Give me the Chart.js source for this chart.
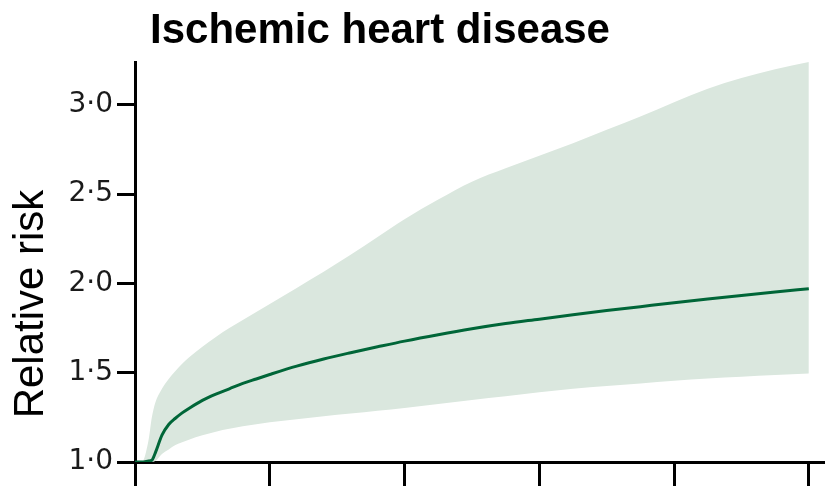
<!DOCTYPE html>
<html>
<head>
<meta charset="utf-8">
<title>Ischemic heart disease</title>
<script src="https://cdn.jsdelivr.net/npm/chart.js@4.4.1/dist/chart.umd.min.js"></script>
<style>
    html, body { margin: 0; padding: 0; background: #ffffff; }
    #chart { display: block; }
</style>
</head>
<body>
<canvas id="chart" width="825" height="486"></canvas>
<script>
const chartTitle = 'Ischemic heart disease';
const yAxisTitle = 'Relative risk';

// exposure values along the x axis
const exposure = [0, 1, 2, 2.5, 3, 4, 5, 6, 7, 8, 10, 12, 14, 16, 18, 20, 24, 28, 32, 36, 40, 45, 50, 55, 60, 65, 70, 75, 80, 85, 90, 95, 100];

// relative risk curve and its uncertainty band
const riskMean = [1.0, 1.0, 1.005, 1.01, 1.05, 1.15, 1.21, 1.245, 1.275, 1.30, 1.345, 1.38, 1.41, 1.44, 1.465, 1.49, 1.537, 1.577, 1.612, 1.645, 1.677, 1.713, 1.746, 1.775, 1.80, 1.825, 1.848, 1.87, 1.892, 1.913, 1.933, 1.952, 1.97];
const riskUpper = [1.0, 1.0, 1.12, 1.25, 1.33, 1.41, 1.465, 1.51, 1.55, 1.585, 1.645, 1.70, 1.75, 1.795, 1.84, 1.885, 1.975, 2.065, 2.16, 2.26, 2.36, 2.47, 2.57, 2.645, 2.715, 2.785, 2.86, 2.935, 3.015, 3.09, 3.15, 3.20, 3.24];
const riskLower = [1.0, 1.0, 1.0, 1.0, 1.005, 1.045, 1.07, 1.095, 1.11, 1.125, 1.15, 1.17, 1.186, 1.20, 1.212, 1.223, 1.24, 1.256, 1.271, 1.287, 1.303, 1.325, 1.347, 1.368, 1.39, 1.41, 1.425, 1.44, 1.455, 1.467, 1.477, 1.487, 1.495];

const xTicks = [0, 20, 40, 60, 80, 100];
const yTicks = [1.0, 1.5, 2.0, 2.5, 3.0];

const toPoints = values => exposure.map((x, i) => ({ x: x, y: values[i] }));

// title and rotated axis label, drawn straight on the canvas
const textLabels = {
    id: 'textLabels',
    afterDraw(chart) {
        const ctx = chart.ctx;
        ctx.save();
        ctx.fillStyle = '#000000';
        ctx.textAlign = 'center';
        ctx.textBaseline = 'alphabetic';
        ctx.font = 'bold 42px "Liberation Sans", Arial, sans-serif';
        ctx.fillText(chartTitle, 380, 43);

        ctx.translate(43, 304);
        ctx.rotate(-Math.PI / 2);
        ctx.font = '42px "Liberation Sans", Arial, sans-serif';
        ctx.fillText(yAxisTitle, 0, 0);
        ctx.restore();
    }
};

new Chart(document.getElementById('chart'), {
    type: 'line',
    data: {
        datasets: [
            // first dataset is drawn last, so the curve sits over the band
            {
                label: 'Relative risk',
                data: toPoints(riskMean),
                borderColor: 'rgb(0, 102, 56)',
                borderWidth: 3,
                pointRadius: 0,
                fill: false,
                cubicInterpolationMode: 'monotone'
            },
            {
                label: 'Upper',
                data: toPoints(riskUpper),
                borderWidth: 0,
                pointRadius: 0,
                backgroundColor: 'rgb(218, 231, 222)',
                fill: '+1',
                cubicInterpolationMode: 'monotone'
            },
            {
                label: 'Lower',
                data: toPoints(riskLower),
                borderWidth: 0,
                pointRadius: 0,
                fill: false,
                cubicInterpolationMode: 'monotone'
            }
        ]
    },
    options: {
        responsive: false,
        animation: false,
        devicePixelRatio: 1,
        layout: {
            padding: { top: 62, left: 0, right: 0, bottom: 0 }
        },
        plugins: {
            legend: { display: false },
            tooltip: { enabled: false }
        },
        scales: {
            x: {
                type: 'linear',
                min: 0,
                max: 102.4,
                afterBuildTicks: scale => {
                    scale.ticks = xTicks.map(v => ({ value: v }));
                },
                afterFit: scale => {
                    scale.height = 24;
                },
                ticks: { display: false },
                grid: {
                    drawOnChartArea: false,
                    drawTicks: true,
                    tickLength: 24,
                    color: '#000000',
                    lineWidth: 3
                },
                border: { display: true, color: '#000000', width: 3 }
            },
            y: {
                type: 'linear',
                min: 1.0,
                max: 3.24,
                afterBuildTicks: scale => {
                    scale.ticks = yTicks.map(v => ({ value: v }));
                },
                afterFit: scale => {
                    scale.width = 135;
                },
                ticks: {
                    padding: 4,
                    color: '#1a1a1a',
                    font: { family: '"DejaVu Sans", Verdana, sans-serif', size: 28 },
                    callback: value => value.toFixed(1).replace('.', '·')
                },
                grid: {
                    drawOnChartArea: false,
                    drawTicks: true,
                    tickLength: 18,
                    color: '#000000',
                    lineWidth: 3
                },
                border: { display: true, color: '#000000', width: 3 }
            }
        }
    },
    plugins: [textLabels]
});
</script>
</body>
</html>
